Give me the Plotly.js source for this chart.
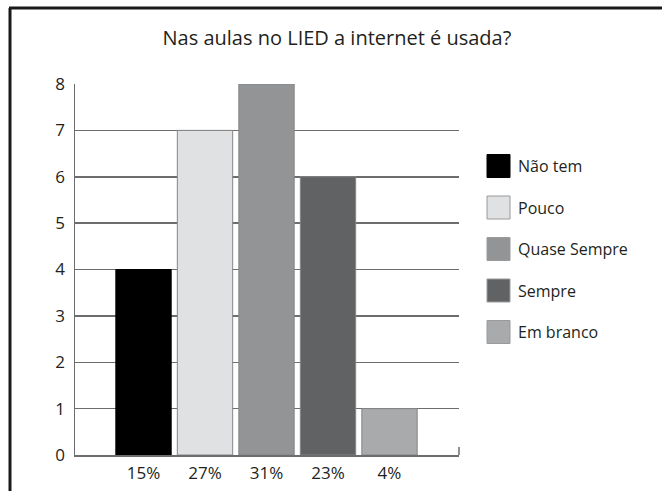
<!DOCTYPE html>
<html>
<head>
<meta charset="utf-8">
<script src="https://cdn.plot.ly/plotly-3.0.1.min.js"></script>
<style>html,body{margin:0;padding:0;background:#fff;}#chart{width:662px;height:491px;}</style>
</head>
<body>
<div id="chart"></div>
<script>
const categories = ["15%", "27%", "31%", "23%", "4%"];
const seriesNames = ["Não tem", "Pouco", "Quase Sempre", "Sempre", "Em branco"];
const values = [4, 7, 8, 6, 1];
const colors = ["#000000", "#dfe1e3", "#929496", "#616264", "#a9aaac"];
const yTicks = [0, 1, 2, 3, 4, 5, 6, 7, 8];

const W = 662, H = 491;
const M = {l: 75, r: 203, t: 84, b: 36};
const pw = W - M.l - M.r, ph = H - M.t - M.b;
const px = p => (p - M.l) / pw;
const py = p => (H - M.b - p) / ph;

const font = '"Open Sans", "Noto Sans", sans-serif';
const txt = '#231f20';

const traces = categories.map((c, i) => ({
  type: 'bar',
  x: [c],
  y: [values[i]],
  name: seriesNames[i],
  width: 0.9,
  marker: {color: colors[i], line: {color: i === 0 ? '#000' : '#858585', width: 1}},
  showlegend: false,
  hoverinfo: 'skip'
}));

const shapes = [];
const annotations = [];
seriesNames.forEach((n, i) => {
  const cy = 166 + 41.5 * i;
  shapes.push({type: 'rect', xref: 'paper', yref: 'paper',
    x0: px(487), x1: px(510), y0: py(cy + 11.5), y1: py(cy - 11.5),
    fillcolor: colors[i], line: {color: i === 0 ? '#000' : '#9a9a9a', width: 1}});
  annotations.push({xref: 'paper', yref: 'paper', x: px(516), y: py(cy),
    xanchor: 'left', yanchor: 'middle', text: n, showarrow: false,
    font: {family: font, size: 16, color: txt}});
});
// right-end tick of x axis
shapes.push({type: 'line', xref: 'paper', yref: 'paper', x0: 1, x1: 1, y0: 0, y1: py(447),
  line: {color: '#6d6d6d', width: 1.5}});
// outer frame (top and left edges)
shapes.push({type: 'line', xref: 'paper', yref: 'paper', x0: px(9), x1: px(680), y0: py(8), y1: py(8),
  line: {color: '#1a1a1a', width: 3}});
shapes.push({type: 'line', xref: 'paper', yref: 'paper', x0: px(10), x1: px(10), y0: py(8), y1: py(520),
  line: {color: '#1a1a1a', width: 3}});

const layout = {
  width: W, height: H,
  margin: M,
  paper_bgcolor: '#fff', plot_bgcolor: '#fff',
  barmode: 'overlay',
  showlegend: false,
  title: {text: 'Nas aulas no LIED a internet é usada?', x: 0.509, xref: 'container',
    y: 1 - 38 / H, yref: 'container', yanchor: 'middle', xanchor: 'center',
    font: {family: font, size: 20, color: txt}},
  xaxis: {type: 'category', categoryorder: 'array', categoryarray: categories,
    range: [-1.114, 5.13], showgrid: false, zeroline: false,
    showline: true, linecolor: '#6d6d6d', linewidth: 1.5,
    ticks: '', ticklabelstandoff: 2,
    tickfont: {family: font, size: 17, color: txt}, fixedrange: true},
  yaxis: {range: [0, 8], tickvals: yTicks, ticktext: yTicks.map(String),
    showgrid: true, gridcolor: '#6d6d6d', gridwidth: 1.5, zeroline: false,
    showline: true, linecolor: '#6d6d6d', linewidth: 1.5,
    ticks: '', ticklabelstandoff: 5,
    tickfont: {family: font, size: 17, color: txt}, fixedrange: true},
  shapes: shapes,
  annotations: annotations
};

Plotly.newPlot('chart', traces, layout, {displayModeBar: false, staticPlot: true});
</script>
</body>
</html>
